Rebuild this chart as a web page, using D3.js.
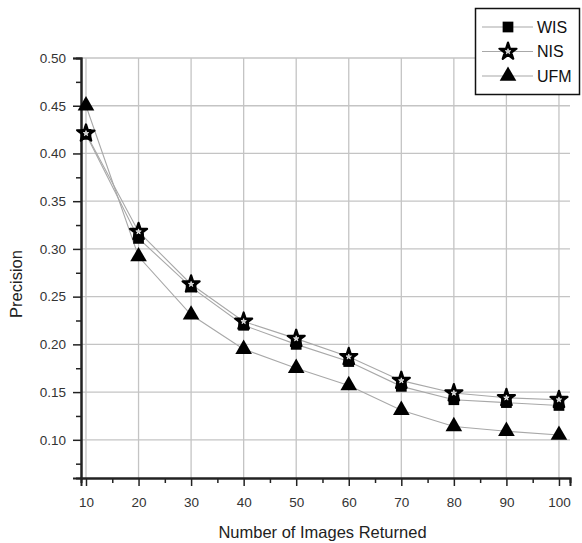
<!DOCTYPE html>
<html>
<head>
<meta charset="utf-8">
<script src="https://cdn.jsdelivr.net/npm/d3@7"></script>
<style>
  body { margin: 0; background: #fff; }
  svg { display: block; font-family: "Liberation Sans", Arial, sans-serif; }
</style>
</head>
<body>
<div id="chart"></div>
<script>
const returned = [10, 20, 30, 40, 50, 60, 70, 80, 90, 100];
const wis = [0.420, 0.311, 0.260, 0.220, 0.200, 0.182, 0.156, 0.142, 0.139, 0.136];
const nis = [0.421, 0.318, 0.263, 0.224, 0.206, 0.187, 0.162, 0.149, 0.144, 0.142];
const ufm = [0.450, 0.292, 0.231, 0.195, 0.175, 0.157, 0.131, 0.114, 0.109, 0.105];
const yTicks = [0.10, 0.15, 0.20, 0.25, 0.30, 0.35, 0.40, 0.45, 0.50];
const seriesNames = ["WIS", "NIS", "UFM"];

const width = 582;
const height = 543;

const svg = d3.select("#chart")
    .append("svg")
    .attr("width", width)
    .attr("height", height);

const x = d3.scaleLinear().domain([9.05, 102.1]).range([81, 570]);
const y = d3.scaleLinear().domain([0.06, 0.50]).range([478, 58]);

// grid
const grid = svg.append("g").attr("stroke", "#c4c4c4").attr("stroke-width", 1.3);
grid.selectAll("line.v")
    .data(returned)
    .enter()
    .append("line")
    .attr("x1", d => x(d)).attr("x2", d => x(d))
    .attr("y1", y(0.50)).attr("y2", y.range()[0]);
grid.selectAll("line.h")
    .data(yTicks)
    .enter()
    .append("line")
    .attr("x1", x.range()[0]).attr("x2", x.range()[1])
    .attr("y1", d => y(d)).attr("y2", d => y(d));

// axes
const xAxis = d3.axisBottom(x).tickValues(returned).tickSize(8).tickPadding(11).tickFormat(d3.format("d"));
const xMinor = d3.axisBottom(x).tickValues(returned.slice(0, -1).map(d => d + 5)).tickSize(5).tickFormat("");
const yAxis = d3.axisLeft(y).tickValues(yTicks).tickSize(8).tickPadding(7).tickFormat(d3.format(".2f"));
const yMinor = d3.axisLeft(y).tickValues(yTicks.map(d => d - 0.025)).tickSize(5).tickFormat("");

function styleAxis(g) {
    g.select(".domain").attr("stroke", "#222").attr("stroke-width", 2);
    g.selectAll(".tick line").attr("stroke", "#222").attr("stroke-width", 1.5);
    g.selectAll(".tick text").attr("fill", "#333").style("font-size", "13.5px");
}

svg.append("g").attr("transform", `translate(0,${y.range()[0]})`).call(xMinor).call(styleAxis);
svg.append("g").attr("transform", `translate(0,${y.range()[0]})`).call(xAxis).call(styleAxis);
svg.append("g").attr("transform", `translate(${x.range()[0]},0)`).call(yMinor).call(styleAxis);
svg.append("g").attr("transform", `translate(${x.range()[0]},0)`).call(yAxis).call(styleAxis);

// axis titles
svg.append("text")
    .attr("x", (x(10) + x(100)) / 2)
    .attr("y", 538)
    .attr("text-anchor", "middle")
    .attr("fill", "#222")
    .style("font-size", "16.5px")
    .text("Number of Images Returned");

svg.append("text")
    .attr("transform", "translate(22,284) rotate(-90)")
    .attr("text-anchor", "middle")
    .attr("fill", "#222")
    .style("font-size", "16.5px")
    .text("Precision");

// series
const series = [
    { name: seriesNames[0], values: wis, symbol: d3.symbolSquare, size: 115 },
    { name: seriesNames[1], values: nis, symbol: d3.symbolStar, size: 90 },
    { name: seriesNames[2], values: ufm, symbol: d3.symbolTriangle, size: 120 }
];

const line = d3.line()
    .x((d, i) => x(returned[i]))
    .y(d => y(d));

svg.selectAll("path.series")
    .data(series)
    .enter()
    .append("path")
    .attr("class", "series")
    .attr("d", d => line(d.values))
    .attr("fill", "none")
    .attr("stroke", "#a8a8a8")
    .attr("stroke-width", 1.1);

function drawMarker(g, s) {
    const isStar = s.symbol === d3.symbolStar;
    g.append("path")
        .attr("d", d3.symbol().type(s.symbol).size(s.size)())
        .attr("fill", "#000")
        .attr("stroke", isStar ? "#000" : "none")
        .attr("stroke-width", 2.2)
        .attr("stroke-linejoin", "round");
    if (isStar) {
        g.append("path")
            .attr("d", d3.symbol().type(d3.symbolStar).size(9)())
            .attr("fill", "#ccc")
            .attr("stroke", "#fff")
            .attr("stroke-width", 0.7);
    }
}

series.forEach(s => {
    s.values.forEach((v, i) => {
        const g = svg.append("g").attr("transform", `translate(${x(returned[i])},${y(v)})`);
        drawMarker(g, s);
    });
});

// legend
const legend = svg.append("g");
legend.append("rect")
    .attr("x", 475.5).attr("y", 8.5)
    .attr("width", 104).attr("height", 86)
    .attr("fill", "#fff")
    .attr("stroke", "#111")
    .attr("stroke-width", 1.5);

series.forEach((s, i) => {
    const ly = 27 + i * 24.5;
    legend.append("line")
        .attr("x1", 482).attr("x2", 533)
        .attr("y1", ly).attr("y2", ly)
        .attr("stroke", "#a8a8a8")
        .attr("stroke-width", 1.1);
    drawMarker(legend.append("g").attr("transform", `translate(508,${ly})`), s);
    legend.append("text")
        .attr("x", 537)
        .attr("y", ly + 5.5)
        .attr("fill", "#111")
        .style("font-size", "16px")
        .text(s.name);
});
</script>
</body>
</html>
